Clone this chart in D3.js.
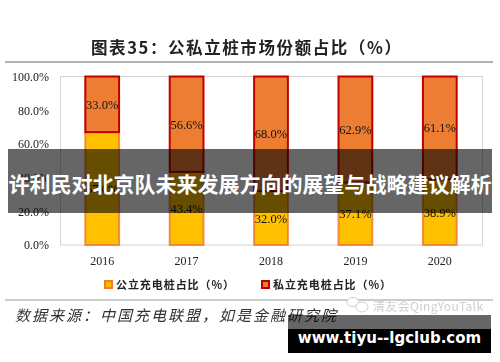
<!DOCTYPE html>
<html><head><meta charset="utf-8">
<script src="https://cdn.jsdelivr.net/npm/d3@7/dist/d3.min.js"></script>
<style>html,body{margin:0;padding:0;background:#fff}svg{display:block}</style></head>
<body><svg id="c" width="500" height="362"></svg>
<script>
const years = ["2016","2017","2018","2019","2020"];
const publicShare = [67.0,43.4,32.0,37.1,38.9];
const privateShare = [33.0,56.6,68.0,62.9,61.1];
const yTicks = [0,20,40,60,80,100];
const chartTitle = "图表35：公私立桩市场份额占比（%）";
const legendLabels = ["公立充电桩占比（%）","私立充电桩占比（%）"];
const sourceText = "数据来源：中国充电联盟，如是金融研究院";
const overlayTitle = "许利民对北京队未来发展方向的展望与战略建议解析";
const siteText = "www.tiyu--lgclub.com";
const watermark = "清友会QingYouTalk";

const svg = d3.select("#c");
const serif = "'Liberation Serif',serif";
const cjk = "'Noto Sans CJK SC',sans-serif";
const defs = svg.append("defs");
defs.append("filter").attr("id","soft")
 .attr("filterUnits","userSpaceOnUse").attr("x",0).attr("y",0).attr("width",500).attr("height",362)
 .append("feGaussianBlur").attr("stdDeviation",0.35);
const x = d3.scaleBand().domain(years).range([60,482]).paddingInner(0.6).paddingOuter(0.3);
const y = d3.scaleLinear().domain([0,100]).range([245,76.5]);

const g = svg.append("g").attr("filter","url(#soft)");
g.append("text").attr("x",91).attr("y",53.5)
 .attr("font-family",cjk).attr("font-weight",700).attr("font-size",16.5).attr("fill","#222")
 .attr("textLength",310).attr("lengthAdjust","spacing").text(chartTitle);
[62,300].forEach((ly,i)=>g.append("line").attr("x1",5).attr("x2",493).attr("y1",ly).attr("y2",ly)
 .attr("stroke",i?"#999":"#666").attr("stroke-width",1));

g.append("rect").attr("x",60.5).attr("y",76.5).attr("width",422).attr("height",168.5)
 .attr("fill","none").attr("stroke","#d4d4d4");

const yAxis = d3.axisLeft(y).tickValues(yTicks).tickSize(0).tickPadding(11).tickFormat(d=>d.toFixed(1)+"%");
const ya = g.append("g").attr("transform","translate(60,0)").call(yAxis);
ya.select(".domain").remove();
ya.selectAll("text").attr("font-family",serif).attr("font-size",12).attr("fill","#222");
const xAxis = d3.axisBottom(x).tickSize(0).tickPadding(11);
const xa = g.append("g").attr("transform","translate(0,245)").call(xAxis);
xa.select(".domain").remove();
xa.selectAll("text").attr("font-family",serif).attr("font-size",12).attr("fill","#222");

g.selectAll(".pub").data(years).join("rect").attr("class","pub")
 .attr("x",d=>x(d)).attr("width",x.bandwidth())
 .attr("y",(d,i)=>y(publicShare[i])).attr("height",(d,i)=>y(0)-y(publicShare[i]))
 .attr("fill","#ffc000").attr("stroke","#ed7d31").attr("stroke-opacity",.85).attr("stroke-width",2);
g.selectAll(".pri").data(years).join("rect").attr("class","pri")
 .attr("x",d=>x(d)).attr("width",x.bandwidth())
 .attr("y",(d,i)=>y(100)).attr("height",(d,i)=>y(publicShare[i])-y(100))
 .attr("fill","#ed7d31").attr("stroke","#c00000").attr("stroke-width",2);

const lab = (vals,center)=>g.selectAll(null).data(years).join("text")
 .attr("x",d=>x(d)+x.bandwidth()/2).attr("y",(d,i)=>y(center(i))+4.5)
 .attr("text-anchor","middle").attr("font-family",serif).attr("font-size",12.5).attr("fill","#111")
 .text((d,i)=>vals[i].toFixed(1)+"%");
lab(publicShare,i=>publicShare[i]/2);
lab(privateShare,i=>publicShare[i]+privateShare[i]/2);

const lx = [105,262], lsw = [["#ffc000","#ed7d31"],["#ed7d31","#c00000"]];
legendLabels.forEach((t,i)=>{
  g.append("rect").attr("x",lx[i]).attr("y",281).attr("width",7).attr("height",7)
   .attr("fill",lsw[i][0]).attr("stroke",lsw[i][1]).attr("stroke-width",2);
  g.append("text").attr("x",lx[i]+11).attr("y",288.5).attr("font-family",cjk).attr("font-weight",700)
   .attr("font-size",11).attr("fill","#222")
   .attr("textLength",118).attr("lengthAdjust","spacing").text(t);
});
g.append("text").attr("x",15).attr("y",320.5).attr("font-family",cjk).attr("font-style","italic")
 .attr("font-size",15).attr("fill","#333")
 .attr("textLength",321).attr("lengthAdjust","spacing").text(sourceText);
g.append("text").attr("x",373).attr("y",310.5).attr("font-family",cjk).attr("font-size",12)
 .attr("fill","#cfcfcf").attr("textLength",110).attr("lengthAdjust","spacing").text(watermark);
const wm = g.append("g").attr("fill","#fff").attr("stroke","#cfcfcf").attr("stroke-width",1);
wm.append("ellipse").attr("cx",353).attr("cy",302).attr("rx",6).attr("ry",4.5);
wm.append("ellipse").attr("cx",362).attr("cy",307).attr("rx",6).attr("ry",5);

svg.append("rect").attr("x",8).attr("y",149).attr("width",484).attr("height",64).attr("fill","#000").attr("fill-opacity",.6);
svg.append("text").attr("x",250).attr("y",192).attr("text-anchor","middle").attr("font-family",cjk)
 .attr("font-weight",700).attr("font-size",21).attr("fill","#fff").text(overlayTitle);
svg.append("rect").attr("x",288).attr("y",315).attr("width",203).attr("height",14).attr("fill","#000").attr("fill-opacity",.6);
svg.append("rect").attr("x",288).attr("y",329).attr("width",203).attr("height",24).attr("fill","#000");
svg.append("text").attr("x",389.5).attr("y",343).attr("text-anchor","middle").attr("font-family","'DejaVu Sans',sans-serif")
 .attr("font-weight",700).attr("font-size",15).attr("fill","#fff").text(siteText);
</script></body></html>
